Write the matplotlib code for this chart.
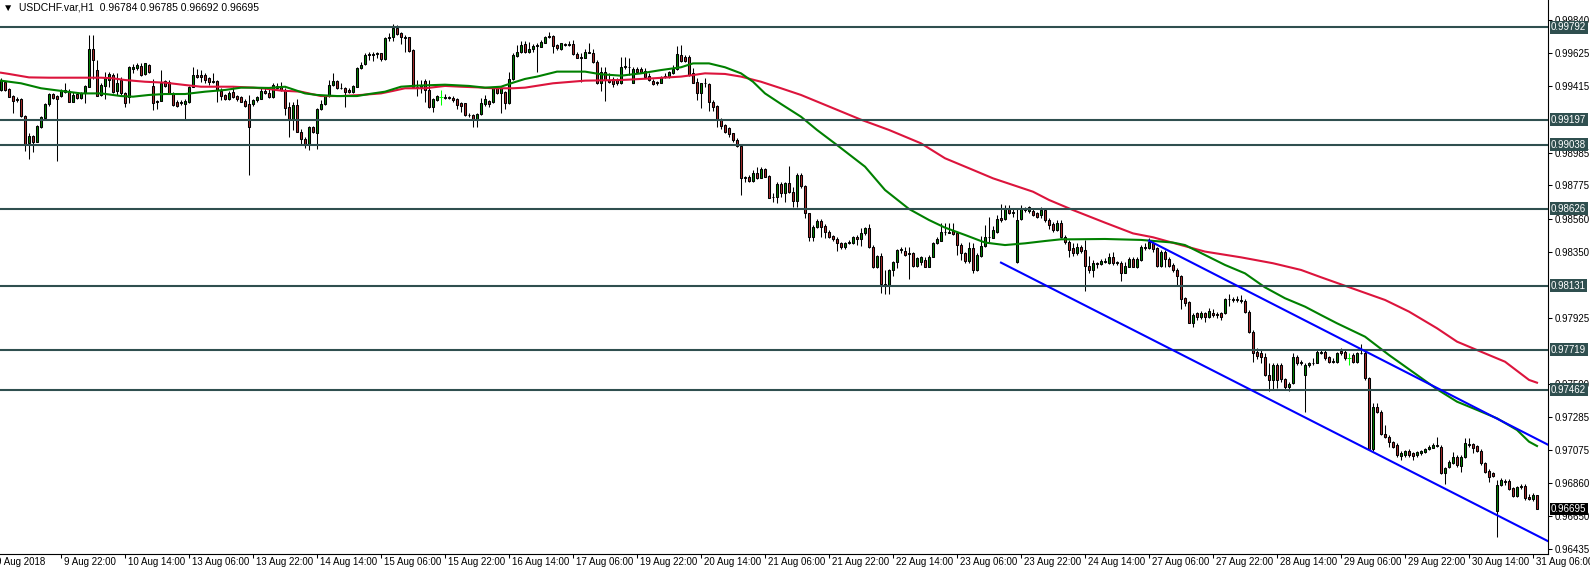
import matplotlib
matplotlib.use("Agg")
import matplotlib.pyplot as plt
from matplotlib.transforms import blended_transform_factory, ScaledTranslation

# USDCHF H1 bars, oldest first (bar index = position on the chart)
opens = [
    0.99389, 0.99442, 0.99395, 0.99350, 0.99325, 0.99331, 0.99224, 0.99050, 0.99093, 0.99057,
    0.99149, 0.99211, 0.99299, 0.99363, 0.99350, 0.99350, 0.99378, 0.99385, 0.99314, 0.99363,
    0.99340, 0.99367, 0.99410, 0.99653, 0.99517, 0.99357, 0.99417, 0.99453, 0.99485, 0.99385,
    0.99453, 0.99367, 0.99342, 0.99526, 0.99528, 0.99543, 0.99490, 0.99550, 0.99415, 0.99314,
    0.99320, 0.99449, 0.99442, 0.99367, 0.99314, 0.99303, 0.99299, 0.99314, 0.99410, 0.99485,
    0.99485, 0.99485, 0.99464, 0.99442, 0.99449, 0.99385, 0.99357, 0.99331, 0.99378, 0.99350,
    0.99342, 0.99318, 0.99299, 0.99297, 0.99325, 0.99333, 0.99385, 0.99372, 0.99342, 0.99417,
    0.99410, 0.99389, 0.99278, 0.99196, 0.99293, 0.99121, 0.99072, 0.99042, 0.99149, 0.99115,
    0.99265, 0.99299, 0.99350, 0.99421, 0.99447, 0.99404, 0.99400, 0.99389, 0.99378, 0.99410,
    0.99528, 0.99554, 0.99620, 0.99612, 0.99623, 0.99625, 0.99586, 0.99721, 0.99732, 0.99785,
    0.99753, 0.99732, 0.99728, 0.99646, 0.99410, 0.99410, 0.99449, 0.99389, 0.99278, 0.99325,
    0.99342, 0.99344, 0.99346, 0.99337, 0.99331, 0.99307, 0.99303, 0.99230, 0.99228, 0.99202,
    0.99233, 0.99299, 0.99318, 0.99314, 0.99400, 0.99372, 0.99378, 0.99303, 0.99457, 0.99610,
    0.99631, 0.99685, 0.99635, 0.99650, 0.99672, 0.99668, 0.99693, 0.99728, 0.99736, 0.99678,
    0.99650, 0.99685, 0.99678, 0.99685, 0.99620, 0.99599, 0.99597, 0.99629, 0.99625, 0.99571,
    0.99436, 0.99507, 0.99453, 0.99457, 0.99453, 0.99432, 0.99539, 0.99535, 0.99436, 0.99522,
    0.99526, 0.99513, 0.99479, 0.99447, 0.99440, 0.99436, 0.99470, 0.99470, 0.99496, 0.99522,
    0.99614, 0.99603, 0.99603, 0.99496, 0.99442, 0.99372, 0.99432, 0.99428, 0.99310, 0.99286,
    0.99196, 0.99164, 0.99147, 0.99110, 0.99067, 0.99029, 0.98821, 0.98832, 0.98806, 0.98857,
    0.98825, 0.98879, 0.98836, 0.98703, 0.98703, 0.98785, 0.98729, 0.98789, 0.98735, 0.98678,
    0.98842, 0.98772, 0.98596, 0.98446, 0.98510, 0.98549, 0.98515, 0.98478, 0.98450, 0.98433,
    0.98408, 0.98378, 0.98403, 0.98408, 0.98446, 0.98429, 0.98467, 0.98504, 0.98382, 0.98249,
    0.98322, 0.98142, 0.98135, 0.98232, 0.98285, 0.98360, 0.98356, 0.98339, 0.98343, 0.98257,
    0.98285, 0.98296, 0.98253, 0.98317, 0.98403, 0.98420, 0.98474, 0.98472, 0.98485, 0.98467,
    0.98392, 0.98339, 0.98290, 0.98371, 0.98232, 0.98324, 0.98386, 0.98442, 0.98440, 0.98476,
    0.98568, 0.98557, 0.98622, 0.98600, 0.98283, 0.98557, 0.98622, 0.98613, 0.98613, 0.98596,
    0.98585, 0.98618, 0.98553, 0.98527, 0.98489, 0.98536, 0.98446, 0.98414, 0.98371, 0.98343,
    0.98382, 0.98360, 0.98260, 0.98232, 0.98275, 0.98268, 0.98292, 0.98275, 0.98313, 0.98279,
    0.98279, 0.98215, 0.98253, 0.98300, 0.98253, 0.98296, 0.98382, 0.98371, 0.98408, 0.98371,
    0.98257, 0.98350, 0.98300, 0.98264, 0.98232, 0.98193, 0.98050, 0.98028, 0.97893, 0.97953,
    0.97932, 0.97953, 0.97932, 0.97953, 0.97949, 0.97957, 0.97953, 0.98043, 0.98045, 0.98039,
    0.98039, 0.98035, 0.97964, 0.97835, 0.97707, 0.97700, 0.97675, 0.97557, 0.97525, 0.97621,
    0.97621, 0.97529, 0.97482, 0.97503, 0.97675, 0.97640, 0.97557, 0.97621, 0.97632, 0.97636,
    0.97707, 0.97707, 0.97670, 0.97649, 0.97642, 0.97713, 0.97707, 0.97664, 0.97685, 0.97638,
    0.97696, 0.97700, 0.97535, 0.97079, 0.97353, 0.97321, 0.97175, 0.97160, 0.97128, 0.97107,
    0.97036, 0.97042, 0.97070, 0.97057, 0.97042, 0.97053, 0.97064, 0.97079, 0.97090, 0.97100,
    0.97096, 0.96924, 0.96963, 0.96989, 0.97032, 0.96972, 0.97027, 0.97113, 0.97113, 0.97100,
    0.97070, 0.96989, 0.96942, 0.96924, 0.96684, 0.96849, 0.96877, 0.96877, 0.96828, 0.96779,
    0.96834, 0.96843, 0.96774, 0.96762, 0.96784,
]
highs = [
    0.99464, 0.99447, 0.99400, 0.99355, 0.99342, 0.99335, 0.99228, 0.99110, 0.99100, 0.99164,
    0.99222, 0.99303, 0.99367, 0.99367, 0.99357, 0.99393, 0.99432, 0.99393, 0.99378, 0.99378,
    0.99378, 0.99419, 0.99743, 0.99743, 0.99582, 0.99432, 0.99507, 0.99507, 0.99496, 0.99496,
    0.99470, 0.99378, 0.99543, 0.99556, 0.99565, 0.99560, 0.99565, 0.99556, 0.99457, 0.99325,
    0.99517, 0.99453, 0.99453, 0.99378, 0.99325, 0.99325, 0.99329, 0.99415, 0.99539, 0.99522,
    0.99517, 0.99496, 0.99475, 0.99496, 0.99453, 0.99400, 0.99363, 0.99385, 0.99410, 0.99357,
    0.99350, 0.99329, 0.99357, 0.99329, 0.99350, 0.99410, 0.99400, 0.99393, 0.99436, 0.99436,
    0.99440, 0.99400, 0.99314, 0.99314, 0.99329, 0.99136, 0.99089, 0.99157, 0.99157, 0.99271,
    0.99325, 0.99357, 0.99453, 0.99500, 0.99453, 0.99432, 0.99410, 0.99400, 0.99421, 0.99535,
    0.99571, 0.99625, 0.99635, 0.99633, 0.99635, 0.99629, 0.99732, 0.99753, 0.99813, 0.99807,
    0.99764, 0.99743, 0.99732, 0.99650, 0.99453, 0.99453, 0.99462, 0.99453, 0.99335, 0.99357,
    0.99389, 0.99363, 0.99350, 0.99350, 0.99335, 0.99314, 0.99307, 0.99239, 0.99235, 0.99243,
    0.99335, 0.99357, 0.99325, 0.99410, 0.99415, 0.99410, 0.99385, 0.99507, 0.99625, 0.99678,
    0.99706, 0.99706, 0.99700, 0.99685, 0.99689, 0.99710, 0.99736, 0.99764, 0.99743, 0.99685,
    0.99693, 0.99693, 0.99706, 0.99710, 0.99635, 0.99625, 0.99650, 0.99693, 0.99650, 0.99582,
    0.99539, 0.99539, 0.99496, 0.99475, 0.99464, 0.99603, 0.99603, 0.99593, 0.99539, 0.99539,
    0.99539, 0.99528, 0.99496, 0.99457, 0.99449, 0.99479, 0.99496, 0.99513, 0.99550, 0.99672,
    0.99678, 0.99614, 0.99614, 0.99528, 0.99464, 0.99436, 0.99464, 0.99432, 0.99325, 0.99293,
    0.99207, 0.99170, 0.99154, 0.99115, 0.99078, 0.99035, 0.98836, 0.98842, 0.98875, 0.98892,
    0.98896, 0.98885, 0.98842, 0.98725, 0.98800, 0.98800, 0.98800, 0.98900, 0.98768, 0.98853,
    0.98857, 0.98778, 0.98600, 0.98521, 0.98557, 0.98557, 0.98527, 0.98489, 0.98457, 0.98442,
    0.98414, 0.98414, 0.98425, 0.98450, 0.98457, 0.98500, 0.98510, 0.98527, 0.98392, 0.98328,
    0.98339, 0.98232, 0.98236, 0.98292, 0.98365, 0.98378, 0.98382, 0.98382, 0.98350, 0.98317,
    0.98322, 0.98313, 0.98328, 0.98414, 0.98442, 0.98532, 0.98532, 0.98532, 0.98532, 0.98478,
    0.98403, 0.98350, 0.98414, 0.98408, 0.98339, 0.98450, 0.98521, 0.98575, 0.98515, 0.98585,
    0.98656, 0.98650, 0.98650, 0.98622, 0.98624, 0.98650, 0.98639, 0.98643, 0.98628, 0.98607,
    0.98639, 0.98628, 0.98564, 0.98542, 0.98553, 0.98553, 0.98457, 0.98425, 0.98403, 0.98403,
    0.98392, 0.98425, 0.98322, 0.98296, 0.98285, 0.98300, 0.98307, 0.98339, 0.98350, 0.98292,
    0.98292, 0.98285, 0.98313, 0.98313, 0.98317, 0.98392, 0.98408, 0.98435, 0.98425, 0.98382,
    0.98360, 0.98360, 0.98313, 0.98275, 0.98242, 0.98200, 0.98060, 0.98035, 0.97953, 0.97964,
    0.97970, 0.97964, 0.97985, 0.97979, 0.97964, 0.97964, 0.98050, 0.98077, 0.98060, 0.98065,
    0.98071, 0.98043, 0.97975, 0.97846, 0.97728, 0.97717, 0.97700, 0.97632, 0.97632, 0.97632,
    0.97632, 0.97535, 0.97514, 0.97700, 0.97685, 0.97653, 0.97632, 0.97642, 0.97664, 0.97717,
    0.97717, 0.97717, 0.97679, 0.97664, 0.97707, 0.97732, 0.97717, 0.97696, 0.97696, 0.97707,
    0.97756, 0.97717, 0.97546, 0.97375, 0.97375, 0.97332, 0.97235, 0.97171, 0.97135, 0.97117,
    0.97070, 0.97075, 0.97079, 0.97064, 0.97070, 0.97075, 0.97085, 0.97107, 0.97117, 0.97156,
    0.97104, 0.96967, 0.97010, 0.97064, 0.97042, 0.97042, 0.97150, 0.97150, 0.97122, 0.97107,
    0.97079, 0.96999, 0.96950, 0.96935, 0.96882, 0.96892, 0.96886, 0.96886, 0.96839, 0.96843,
    0.96854, 0.96856, 0.96792, 0.96796, 0.96785,
]
lows = [
    0.99385, 0.99385, 0.99342, 0.99243, 0.99312, 0.99217, 0.98999, 0.98943, 0.98992, 0.99052,
    0.99142, 0.99207, 0.99286, 0.99333, 0.98935, 0.99346, 0.99372, 0.99310, 0.99310, 0.99333,
    0.99333, 0.99307, 0.99406, 0.99457, 0.99350, 0.99350, 0.99329, 0.99410, 0.99372, 0.99357,
    0.99357, 0.99278, 0.99303, 0.99496, 0.99517, 0.99479, 0.99483, 0.99500, 0.99260, 0.99265,
    0.99316, 0.99410, 0.99363, 0.99286, 0.99278, 0.99295, 0.99202, 0.99307, 0.99406, 0.99464,
    0.99442, 0.99432, 0.99421, 0.99432, 0.99314, 0.99325, 0.99325, 0.99325, 0.99335, 0.99320,
    0.99310, 0.99282, 0.98842, 0.99286, 0.99314, 0.99329, 0.99363, 0.99335, 0.99337, 0.99397,
    0.99385, 0.99228, 0.99085, 0.99132, 0.99117, 0.99035, 0.99014, 0.99003, 0.99110, 0.99008,
    0.99260, 0.99295, 0.99346, 0.99417, 0.99397, 0.99393, 0.99282, 0.99372, 0.99372, 0.99406,
    0.99522, 0.99550, 0.99582, 0.99578, 0.99593, 0.99578, 0.99582, 0.99706, 0.99702, 0.99743,
    0.99685, 0.99635, 0.99635, 0.99400, 0.99350, 0.99367, 0.99314, 0.99273, 0.99250, 0.99320,
    0.99295, 0.99333, 0.99329, 0.99314, 0.99265, 0.99250, 0.99222, 0.99217, 0.99149, 0.99149,
    0.99228, 0.99286, 0.99282, 0.99307, 0.99363, 0.99239, 0.99265, 0.99299, 0.99453, 0.99603,
    0.99625, 0.99625, 0.99629, 0.99635, 0.99507, 0.99663, 0.99689, 0.99721, 0.99629, 0.99646,
    0.99646, 0.99672, 0.99672, 0.99614, 0.99593, 0.99442, 0.99593, 0.99625, 0.99565, 0.99428,
    0.99383, 0.99320, 0.99432, 0.99410, 0.99421, 0.99425, 0.99522, 0.99485, 0.99432, 0.99496,
    0.99496, 0.99470, 0.99449, 0.99419, 0.99421, 0.99432, 0.99464, 0.99464, 0.99492, 0.99517,
    0.99571, 0.99571, 0.99479, 0.99432, 0.99325, 0.99275, 0.99410, 0.99256, 0.99256, 0.99154,
    0.99136, 0.99110, 0.99089, 0.99057, 0.99025, 0.98714, 0.98800, 0.98800, 0.98800, 0.98819,
    0.98821, 0.98827, 0.98692, 0.98671, 0.98665, 0.98703, 0.98671, 0.98725, 0.98639, 0.98639,
    0.98757, 0.98564, 0.98420, 0.98420, 0.98500, 0.98446, 0.98435, 0.98440, 0.98420, 0.98356,
    0.98365, 0.98365, 0.98397, 0.98399, 0.98392, 0.98386, 0.98457, 0.98371, 0.98242, 0.98242,
    0.98082, 0.98075, 0.98075, 0.98193, 0.98242, 0.98343, 0.98322, 0.98172, 0.98253, 0.98249,
    0.98264, 0.98249, 0.98249, 0.98313, 0.98399, 0.98416, 0.98457, 0.98467, 0.98457, 0.98328,
    0.98296, 0.98279, 0.98275, 0.98215, 0.98228, 0.98317, 0.98382, 0.98414, 0.98435, 0.98472,
    0.98542, 0.98553, 0.98592, 0.98575, 0.98279, 0.98553, 0.98607, 0.98600, 0.98579, 0.98564,
    0.98564, 0.98542, 0.98493, 0.98478, 0.98485, 0.98435, 0.98399, 0.98317, 0.98322, 0.98328,
    0.98339, 0.98099, 0.98210, 0.98185, 0.98242, 0.98264, 0.98275, 0.98270, 0.98264, 0.98264,
    0.98163, 0.98210, 0.98249, 0.98249, 0.98242, 0.98292, 0.98360, 0.98365, 0.98350, 0.98249,
    0.98253, 0.98249, 0.98249, 0.98221, 0.98135, 0.97979, 0.98000, 0.97889, 0.97867, 0.97910,
    0.97915, 0.97900, 0.97921, 0.97932, 0.97921, 0.97910, 0.97949, 0.98000, 0.98028, 0.98028,
    0.98017, 0.97957, 0.97825, 0.97642, 0.97657, 0.97636, 0.97550, 0.97456, 0.97460, 0.97471,
    0.97514, 0.97465, 0.97456, 0.97499, 0.97621, 0.97621, 0.97321, 0.97610, 0.97621, 0.97632,
    0.97692, 0.97653, 0.97632, 0.97632, 0.97636, 0.97685, 0.97653, 0.97621, 0.97632, 0.97632,
    0.97690, 0.97525, 0.97075, 0.97070, 0.97310, 0.97171, 0.97150, 0.97096, 0.97085, 0.97032,
    0.97010, 0.97032, 0.97032, 0.97010, 0.97032, 0.97042, 0.97057, 0.97075, 0.97085, 0.97092,
    0.96920, 0.96856, 0.96957, 0.96984, 0.96967, 0.96931, 0.97021, 0.97096, 0.97053, 0.97064,
    0.96978, 0.96929, 0.96871, 0.96899, 0.96513, 0.96843, 0.96849, 0.96817, 0.96770, 0.96770,
    0.96826, 0.96753, 0.96753, 0.96749, 0.96692,
]
closes = [
    0.99453, 0.99389, 0.99346, 0.99320, 0.99329, 0.99224, 0.99042, 0.99093, 0.99057, 0.99157,
    0.99213, 0.99299, 0.99363, 0.99340, 0.99329, 0.99385, 0.99389, 0.99314, 0.99357, 0.99340,
    0.99367, 0.99415, 0.99653, 0.99582, 0.99352, 0.99421, 0.99464, 0.99492, 0.99378, 0.99436,
    0.99367, 0.99307, 0.99535, 0.99535, 0.99550, 0.99485, 0.99560, 0.99507, 0.99307, 0.99320,
    0.99432, 0.99415, 0.99367, 0.99293, 0.99286, 0.99314, 0.99320, 0.99410, 0.99485, 0.99470,
    0.99470, 0.99453, 0.99442, 0.99449, 0.99389, 0.99352, 0.99331, 0.99372, 0.99346, 0.99329,
    0.99314, 0.99286, 0.99149, 0.99325, 0.99342, 0.99385, 0.99372, 0.99342, 0.99421, 0.99404,
    0.99389, 0.99271, 0.99196, 0.99293, 0.99121, 0.99072, 0.99042, 0.99149, 0.99117, 0.99265,
    0.99299, 0.99350, 0.99421, 0.99447, 0.99404, 0.99400, 0.99378, 0.99378, 0.99415, 0.99528,
    0.99550, 0.99614, 0.99612, 0.99623, 0.99629, 0.99586, 0.99721, 0.99732, 0.99785, 0.99749,
    0.99728, 0.99721, 0.99642, 0.99410, 0.99404, 0.99421, 0.99389, 0.99278, 0.99331, 0.99350,
    0.99342, 0.99340, 0.99337, 0.99325, 0.99293, 0.99288, 0.99228, 0.99226, 0.99202, 0.99235,
    0.99303, 0.99329, 0.99297, 0.99400, 0.99367, 0.99400, 0.99303, 0.99457, 0.99614, 0.99635,
    0.99678, 0.99631, 0.99650, 0.99672, 0.99676, 0.99700, 0.99728, 0.99736, 0.99674, 0.99657,
    0.99689, 0.99678, 0.99685, 0.99618, 0.99597, 0.99593, 0.99635, 0.99633, 0.99571, 0.99432,
    0.99507, 0.99453, 0.99442, 0.99428, 0.99432, 0.99539, 0.99543, 0.99539, 0.99522, 0.99503,
    0.99505, 0.99475, 0.99453, 0.99425, 0.99432, 0.99475, 0.99481, 0.99507, 0.99522, 0.99618,
    0.99578, 0.99578, 0.99485, 0.99436, 0.99372, 0.99432, 0.99436, 0.99310, 0.99278, 0.99196,
    0.99160, 0.99121, 0.99104, 0.99067, 0.99029, 0.98821, 0.98827, 0.98806, 0.98857, 0.98825,
    0.98879, 0.98832, 0.98697, 0.98699, 0.98785, 0.98729, 0.98789, 0.98735, 0.98678, 0.98842,
    0.98772, 0.98596, 0.98446, 0.98510, 0.98549, 0.98510, 0.98478, 0.98446, 0.98429, 0.98408,
    0.98378, 0.98408, 0.98414, 0.98446, 0.98429, 0.98467, 0.98504, 0.98378, 0.98249, 0.98322,
    0.98142, 0.98135, 0.98232, 0.98285, 0.98360, 0.98365, 0.98328, 0.98335, 0.98257, 0.98311,
    0.98313, 0.98253, 0.98317, 0.98403, 0.98429, 0.98478, 0.98478, 0.98478, 0.98463, 0.98392,
    0.98339, 0.98290, 0.98371, 0.98232, 0.98328, 0.98386, 0.98442, 0.98446, 0.98489, 0.98557,
    0.98553, 0.98622, 0.98600, 0.98607, 0.98553, 0.98628, 0.98618, 0.98635, 0.98585, 0.98570,
    0.98618, 0.98553, 0.98521, 0.98489, 0.98536, 0.98446, 0.98414, 0.98360, 0.98343, 0.98382,
    0.98356, 0.98260, 0.98232, 0.98279, 0.98268, 0.98292, 0.98283, 0.98313, 0.98275, 0.98281,
    0.98215, 0.98257, 0.98300, 0.98253, 0.98300, 0.98382, 0.98375, 0.98414, 0.98365, 0.98257,
    0.98350, 0.98300, 0.98257, 0.98232, 0.98193, 0.98043, 0.98022, 0.97893, 0.97942, 0.97932,
    0.97953, 0.97932, 0.97970, 0.97945, 0.97940, 0.97932, 0.98043, 0.98047, 0.98039, 0.98043,
    0.98035, 0.97964, 0.97835, 0.97700, 0.97679, 0.97675, 0.97557, 0.97525, 0.97621, 0.97525,
    0.97529, 0.97477, 0.97499, 0.97675, 0.97636, 0.97632, 0.97621, 0.97632, 0.97636, 0.97707,
    0.97700, 0.97664, 0.97638, 0.97642, 0.97696, 0.97696, 0.97664, 0.97664, 0.97642, 0.97696,
    0.97700, 0.97535, 0.97079, 0.97353, 0.97321, 0.97175, 0.97156, 0.97128, 0.97096, 0.97042,
    0.97057, 0.97070, 0.97042, 0.97036, 0.97064, 0.97070, 0.97079, 0.97096, 0.97104, 0.97104,
    0.96929, 0.96957, 0.96999, 0.97032, 0.96978, 0.97032, 0.97117, 0.97104, 0.97090, 0.97070,
    0.96989, 0.96935, 0.96903, 0.96907, 0.96849, 0.96882, 0.96869, 0.96822, 0.96779, 0.96834,
    0.96843, 0.96764, 0.96762, 0.96784, 0.96695,
]

# moving averages (bar index, price)
green_ma_x = [0, 5, 10, 15, 20, 25, 30, 33, 37, 41, 46, 51, 56, 60, 63, 67, 71, 73, 76, 79,
              84, 89, 92, 96, 100, 104, 111, 117, 121, 125, 128, 131, 134, 139, 146, 150, 155, 160, 165, 170,
              173, 177, 181, 185, 188, 191, 195, 200, 204, 209, 216, 221, 227, 232, 236, 241, 246, 251, 256, 261,
              265, 268, 276, 285, 293, 296, 301, 306, 311, 316, 321, 326, 330, 334, 341, 347, 354, 359, 364, 369,
              374, 379, 382, 384]
green_ma_y = [0.99449, 0.99432, 0.99400, 0.99383, 0.99367, 0.99367, 0.99350, 0.99346, 0.99357, 0.99363,
              0.99363, 0.99378, 0.99389, 0.99404, 0.99404, 0.99402, 0.99410, 0.99393, 0.99367, 0.99357,
              0.99350, 0.99350, 0.99363, 0.99378, 0.99410, 0.99417, 0.99423, 0.99415, 0.99404, 0.99410,
              0.99436, 0.99460, 0.99475, 0.99507, 0.99507, 0.99490, 0.99481, 0.99496, 0.99517, 0.99535,
              0.99560, 0.99560, 0.99535, 0.99496, 0.99442, 0.99367, 0.99299, 0.99217, 0.99132, 0.99035,
              0.98896, 0.98746, 0.98624, 0.98553, 0.98504, 0.98457, 0.98408, 0.98392, 0.98403, 0.98418,
              0.98429, 0.98429, 0.98431, 0.98425, 0.98408, 0.98392, 0.98328, 0.98264, 0.98210, 0.98120,
              0.98050, 0.97996, 0.97942, 0.97889, 0.97803, 0.97685, 0.97557, 0.97465, 0.97385, 0.97332,
              0.97278, 0.97203, 0.97128, 0.97100]
red_ma_x = [0, 2, 7, 12, 20, 25, 28, 31, 36, 41, 46, 50, 55, 58, 63, 66, 70, 75, 80, 85,
            90, 95, 98, 101, 106, 111, 115, 119, 123, 128, 131, 138, 146, 155, 163, 170, 173, 176, 181, 185,
            190, 195, 200, 215, 222, 230, 236, 243, 248, 253, 258, 262, 268, 276, 283, 288, 295, 301, 310, 318,
            325, 330, 346, 352, 359, 364, 369, 376, 382, 384]
red_ma_y = [0.99500, 0.99492, 0.99470, 0.99468, 0.99468, 0.99468, 0.99464, 0.99453, 0.99442, 0.99436,
            0.99421, 0.99410, 0.99410, 0.99410, 0.99404, 0.99398, 0.99385, 0.99378, 0.99350, 0.99350,
            0.99357, 0.99367, 0.99383, 0.99400, 0.99400, 0.99415, 0.99410, 0.99406, 0.99400, 0.99400,
            0.99404, 0.99432, 0.99449, 0.99453, 0.99464, 0.99475, 0.99485, 0.99496, 0.99492, 0.99475,
            0.99442, 0.99400, 0.99357, 0.99198, 0.99132, 0.99046, 0.98950, 0.98875, 0.98821, 0.98778,
            0.98735, 0.98682, 0.98617, 0.98536, 0.98467, 0.98442, 0.98392, 0.98350, 0.98313, 0.98275,
            0.98232, 0.98185, 0.98039, 0.97964, 0.97857, 0.97771, 0.97717, 0.97642, 0.97525, 0.97507]

# descending channel (two trend lines)
upper_x = [287, 387]
upper_y = [0.98420, 0.97105]
lower_x = [250, 387]
lower_y = [0.98279, 0.96485]

levels = [0.99792, 0.99197, 0.99038, 0.98626, 0.98131, 0.97719, 0.97462]
# price scale labels that stay visible beside the level boxes
price_ticks = [0.99840, 0.99625, 0.99415, 0.98985, 0.98775, 0.98560, 0.98350,
               0.97925, 0.97500, 0.97285, 0.97075, 0.96860, 0.96650, 0.96435]
last_price = 0.96695

time_pos = [-2, 15, 31, 47, 63, 79, 95, 111, 127, 143, 159, 175, 191, 207, 223, 239, 255,
            271, 287, 303, 319, 335, 351, 367, 383]
time_labels = ["9 Aug 2018", "9 Aug 22:00", "10 Aug 14:00", "13 Aug 06:00", "13 Aug 22:00",
               "14 Aug 14:00", "15 Aug 06:00", "15 Aug 22:00", "16 Aug 14:00", "17 Aug 06:00",
               "19 Aug 22:00", "20 Aug 14:00", "21 Aug 06:00", "21 Aug 22:00", "22 Aug 14:00",
               "23 Aug 06:00", "23 Aug 22:00", "24 Aug 14:00", "27 Aug 06:00", "27 Aug 22:00",
               "28 Aug 14:00", "29 Aug 06:00", "29 Aug 22:00", "30 Aug 14:00", "31 Aug 06:00"]
header = "\u25bc  USDCHF.var,H1  0.96784 0.96785 0.96692 0.96695"

BULL = "#008000"
BEAR = "#a52a2a"
DOJI = "#00ff00"
LEVEL = "#2f4f4f"

plt.rcParams["font.family"] = ["Liberation Sans", "DejaVu Sans"]

fig = plt.figure(figsize=(15.9, 5.7), dpi=100)
ax = fig.add_axes([0, 16 / 570, 1548 / 1590, 554 / 570])

n = min(len(opens), len(highs), len(lows), len(closes))
idx = list(range(n))
wick_col = [DOJI if opens[i] == closes[i] else "black" for i in idx]
ax.vlines(idx, lows[:n], highs[:n], colors=wick_col, lw=0.75, zorder=2)

up = [i for i in idx if closes[i] > opens[i]]
dn = [i for i in idx if closes[i] < opens[i]]
dj = [i for i in idx if closes[i] == opens[i]]
ax.bar(up, [closes[i] - opens[i] for i in up], bottom=[opens[i] for i in up], width=0.5,
       color=BULL, edgecolor="black", lw=0.75, zorder=3)
ax.bar(dn, [opens[i] - closes[i] for i in dn], bottom=[closes[i] for i in dn], width=0.5,
       color=BEAR, edgecolor="black", lw=0.75, zorder=3)
ax.hlines([opens[i] for i in dj], [i - 0.4 for i in dj], [i + 0.4 for i in dj],
          colors=DOJI, lw=0.75, zorder=3)

ax.plot(red_ma_x, red_ma_y, color="#dc143c", lw=1.5, zorder=4)
ax.plot(green_ma_x, green_ma_y, color="#008000", lw=1.5, zorder=4)

for v in levels:
    ax.axhline(v, color=LEVEL, lw=1.5, zorder=5)

ax.plot(upper_x, upper_y, color="#0000ff", lw=1.5, zorder=5)
ax.plot(lower_x, lower_y, color="#0000ff", lw=1.5, zorder=5)

ax.set_xlim(-0.25, 386.75)
ax.set_ylim(0.964057, 0.999675)

for s in ("top", "left"):
    ax.spines[s].set_visible(False)
for s in ("right", "bottom"):
    ax.spines[s].set_linewidth(0.8)

ax.yaxis.tick_right()
ax.set_yticks(price_ticks)
ax.set_yticklabels([f"{v:.5f}" for v in price_ticks])
ax.tick_params(axis="y", length=3, width=0.75, pad=1.5, labelsize=7)

ax.set_xticks([p for p in time_pos if p >= 0])
ax.set_xticklabels([])
ax.tick_params(axis="x", length=3, width=0.75)

xtrans = blended_transform_factory(ax.transData, ax.transAxes) + \
    ScaledTranslation(3 / 100, -8 / 100, fig.dpi_scale_trans)
for p, lab in zip(time_pos, time_labels):
    ax.text(p, 0, lab, transform=xtrans, fontsize=7, ha="left", va="center", clip_on=False)

ytrans = blended_transform_factory(ax.transAxes, ax.transData) + \
    ScaledTranslation(3 / 100, 0, fig.dpi_scale_trans)
for v in levels:
    ax.text(1.0, v, f"{v:.5f}", transform=ytrans, fontsize=7, color="white", ha="left", va="center",
            bbox=dict(boxstyle="square,pad=0.15", fc=LEVEL, ec="none"), zorder=8, clip_on=False)
ax.text(1.0, last_price, f"{last_price:.5f}", transform=ytrans, fontsize=7, color="white",
        ha="left", va="center", bbox=dict(boxstyle="square,pad=0.15", fc="black", ec="none"),
        zorder=8, clip_on=False)

fig.text(3 / 1590, 1 - 7 / 570, header, fontsize=7.5, ha="left", va="center")

fig.savefig("out.png", dpi=100)
